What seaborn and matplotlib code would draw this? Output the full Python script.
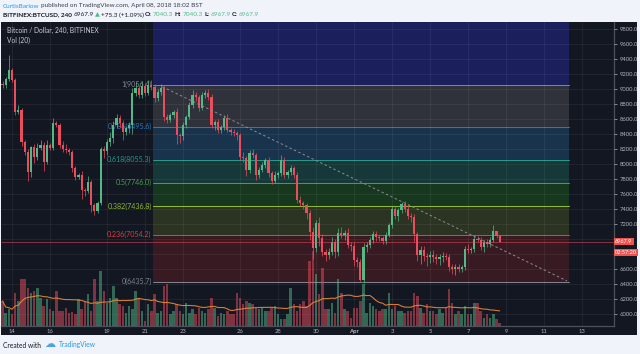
import numpy as np
import pandas as pd
import matplotlib
matplotlib.use("Agg")
import matplotlib.pyplot as plt
import matplotlib.transforms as mtrans
import seaborn as sns

# ---- data (BTCUSD, 4h candles) ----
first_open = 9067
closes = [9054, 9134, 9254, 9121, 8694, 8721, 8295, 8162, 7895, 8228,
          8095, 8215, 8255, 8028, 8255, 8215, 8548, 8521, 8255, 8202,
          8188, 8162, 7949, 7829, 7855, 7656, 7642, 7762, 7456, 7376,
          7482, 8202, 8175, 8295, 8348, 8521, 8614,
          8548, 8428, 8481, 8521, 8948, 9014, 8921, 9041, 8948, 9054,
          9027, 8881, 8961, 9014, 8628, 8588, 8654, 8694, 8388, 8375,
          8521, 8628, 8788, 8921, 8894, 8748, 8921, 8948, 8894, 8521,
          8561, 8455, 8495, 8614, 8455, 8428, 8415, 8388, 8095, 8082, 7922,
          8148, 8122, 7855, 7922, 7988, 8055, 7882, 7775, 7855, 7882,
          8055, 7855, 7895, 7949, 7855, 7522, 7482, 7456, 7349, 7096,
          6883, 7216, 7016, 6830, 6790, 6830, 6963, 6830, 7083, 7056,
          7083, 6923, 6909, 6723, 6696, 6457, 6896, 6923, 6989,
          7069, 7030, 7016, 6976, 7056, 7189, 7402, 7309, 7389, 7469,
          7402, 7309, 7290, 7069, 6790, 6856, 6776, 6763, 6790, 6763,
          6736, 6763, 6776, 6763, 6630, 6603, 6630, 6603, 6630, 6870,
          6856, 6870, 7003, 6989, 6896, 6963, 6936, 6989, 7109, 7040.3, 6967.9]

wick_up = [40, 30, 200, 30, 20, 60, 30, 30, 40, 20,
           40, 60, 60, 40, 60, 30, 65, 30, 30, 50,
           60, 30, 30, 30, 30, 60, 30, 80, 30, 30,
           30, 30, 40, 40, 80, 60, 60,
           40, 40, 30, 40, 60, 80, 40, 60, 40, 60,
           60, 40, 40, 50, 30, 40, 30, 30, 60, 30,
           40, 30, 40, 60, 40, 30, 40, 40, 50, 40,
           30, 40, 30, 40, 50, 30, 40, 30, 30, 60, 30,
           40, 60, 30, 40, 40, 30, 40, 30, 50, 30,
           60, 40, 30, 40, 30, 40, 60, 30, 30, 40,
           60, 40, 80, 60, 40, 50, 60, 40, 60, 80,
           40, 60, 40, 50, 40, 40, 60, 40, 40,
           40, 40, 30, 30, 40, 30, 40, 40, 30, 30,
           40, 60, 40, 40, 30, 60, 60, 40, 50, 60,
           40, 40, 60, 40, 40, 40, 40, 40, 30, 40,
           60, 30, 40, 40, 40, 30, 40, 40, 80, 0, 0]

wick_dn = [40, 40, 30, 30, 40, 30, 60, 40, 120, 60,
           80, 40, 30, 120, 30, 30, 30, 30, 40, 40,
           40, 40, 60, 40, 30, 120, 60, 30, 90, 50,
           30, 30, 100, 60, 60, 60, 40,
           60, 100, 40, 60, 120, 40, 40, 40, 40, 30,
           40, 60, 40, 40, 60, 40, 30, 40, 120, 100,
           60, 40, 30, 40, 50, 40, 30, 40, 40, 40,
           60, 40, 40, 40, 30, 40, 40, 60, 40, 60, 80,
           40, 40, 60, 40, 30, 40, 60, 40, 30, 40,
           40, 40, 40, 40, 40, 40, 40, 60, 80, 100,
           150, 60, 100, 60, 80, 60, 40, 80, 60, 40,
           60, 40, 60, 80, 60, 20, 40, 60, 40,
           40, 60, 40, 40, 40, 30, 40, 40, 60, 40,
           40, 40, 60, 100, 80, 120, 60, 120, 80, 60,
           60, 80, 60, 40, 60, 60, 80, 40, 40, 40,
           40, 40, 40, 30, 40, 60, 40, 40, 30, 30, 0]

volume = [25, 13, 17, 12, 33, 25, 47, 47, 38, 33,
          35, 38, 28, 20, 27, 17, 15, 35, 15, 15,
          18, 13, 14, 12, 27, 17, 25, 32, 15, 47,
          25, 55, 35, 23, 28, 40, 28, 22, 20, 13,
          20, 17, 35, 28, 15, 5, 22, 15, 32, 13,
          15, 40, 42, 12, 15, 22, 15, 12, 23, 13,
          17, 12, 18, 15, 13, 17, 28, 18, 10, 13,
          12, 15, 12, 12, 33, 28, 22, 25, 23, 22,
          18, 17, 18, 15, 15, 18, 20, 12, 7, 7,
          12, 38, 22, 15, 22, 25, 20, 65, 75, 52,
          32, 58, 17, 17, 23, 13, 47, 33, 17, 15,
          8, 18, 18, 25, 42, 13, 23, 20, 17, 15,
          17, 17, 33, 17, 20, 15, 15, 13, 15, 15,
          33, 30, 18, 13, 22, 15, 15, 12, 17, 13,
          18, 37, 23, 12, 15, 12, 20, 12, 12, 23,
          23, 15, 8, 12, 8, 12, 7, 3]

fib_ratios = [1, 0.786, 0.618, 0.5, 0.382, 0.236, 0]
fib_prices = [9056.4, 8495.6, 8055.3, 7746.0, 7436.8, 7054.2, 6435.7]
fib_top = 10676.0  # 1.618 extension, above the visible range
fib_start = pd.Timestamp("2018-03-21 10:00")
fib_end = pd.Timestamp("2018-04-12 08:00")
trend_pts = [(pd.Timestamp("2018-03-21 22:00"), 9030), (pd.Timestamp("2018-04-12 05:00"), 6445)]

last_price = 6967.9
price_ticks = list(range(6000, 9801, 200))
hidden_ticks = [6800, 7000]  # covered by the last-price tags
day_ticks = ["2018-03-14", "2018-03-16", "2018-03-19", "2018-03-21", "2018-03-23",
             "2018-03-26", "2018-03-28", "2018-03-30", "2018-04-01", "2018-04-03",
             "2018-04-05", "2018-04-07", "2018-04-09", "2018-04-11", "2018-04-13"]
day_labels = ["14", "16", "19", "21", "23", "26", "28", "30", "Apr", "3", "5", "7", "9", "11", "13"]

# ---- frame ----
times = pd.date_range("2018-03-13 12:00", periods=len(closes), freq="4h")
df = pd.DataFrame({"time": times, "close": closes, "volume": volume})
df["open"] = df["close"].shift(1).fillna(first_open)
df["high"] = df[["open", "close"]].max(axis=1) + np.array(wick_up)
df["low"] = df[["open", "close"]].min(axis=1) - np.array(wick_dn)
df["up"] = df["close"] >= df["open"]
df["vol_ma"] = df["volume"].rolling(20, min_periods=1).mean()

sns.set_theme(style="dark")
plt.rcParams["font.family"] = ["Lato", "DejaVu Sans"]

BG = "#131722"
UP = "#53b987"
DN = "#eb4d5c"
TXT = "#b2b5be"

fig = plt.figure(figsize=(6.4, 3.54), dpi=100)
fig.patch.set_facecolor("#f0f3fa")
W, H = 640.0, 354.0

def fx(x):
    return x / W

def fy(y):
    return 1 - y / H

# dark panel behind chart + axes strips
fig.patches.append(plt.Rectangle((fx(1), fy(335)), fx(636), 313 / H, transform=fig.transFigure,
                                 facecolor=BG, edgecolor="none", zorder=-5))

ax = fig.add_axes([fx(1), fy(326), fx(613), 304 / H])
ax.set_zorder(1)
ax.set_facecolor(BG)
xmin, xmax = pd.Timestamp("2018-03-13 10:06"), pd.Timestamp("2018-04-14 16:25")
ymin, ymax = 5844, 9893

vax = ax.twinx()
cax = ax.twinx()

# grid
ax.set_yticks(price_ticks)
ax.set_xticks(pd.to_datetime(day_ticks))
ax.grid(True, color="white", alpha=0.07, lw=0.6)
ax.set_axisbelow(False)

# fib zones
zone_colors = ["#1b1f5b", "#30323b", "#19334c", "#163838", "#17381f", "#2b3322", "#381a23"]
line_colors = ["#80838d", "#2f78b8", "#25998c", "#43a047", "#8fb935", "#d8413f", "#80838d"]
bounds = [fib_top] + fib_prices
for i in range(7):
    ax.fill_between([fib_start, fib_end], bounds[i + 1], bounds[i], color=zone_colors[i],
                    lw=0, zorder=0.5)
for r, p, c in zip(fib_ratios, fib_prices, line_colors):
    ax.plot([fib_start, fib_end], [p, p], color=c, lw=0.75, zorder=0.6)
    ax.annotate(f"{r:g}({p:.1f})", xy=(fib_start, p), xytext=(-1, 0.3), textcoords="offset points",
                ha="right", va="center", fontsize=5.1, color=c, zorder=0.7)
ax.set_xlim(xmin, xmax)
ax.set_ylim(ymin, ymax)

# price axis on the right
ax.yaxis.tick_right()
ax.set_yticklabels(["" if t in hidden_ticks else f"{t:.1f}" for t in price_ticks])
ax.tick_params(axis="y", colors=TXT, labelsize=4.2, length=2, width=0.5, pad=2,
               right=True, left=False, labelright=True, labelleft=False)
ax.set_xticklabels(day_labels)
ax.tick_params(axis="x", colors=TXT, labelsize=4.2, length=0, pad=2.5)
for lab in ax.get_xticklabels():
    if lab.get_text() == "Apr":
        lab.set_fontweight("bold")
for s in ["top", "left"]:
    ax.spines[s].set_visible(False)
for s in ["bottom", "right"]:
    ax.spines[s].set_color("#4c505b")
    ax.spines[s].set_linewidth(0.9)

# volume overlay
vax.set_ylim(0, 304)
vax.patch.set_visible(False)
vax.bar(df["time"], df["volume"], width=0.13,
        color=np.where(df["up"], UP, DN), alpha=0.5, lw=0)
sns.lineplot(x=df["time"], y=df["vol_ma"], ax=vax, color="#e8883a", lw=0.8, alpha=0.9)
vax.set_xlim(xmin, xmax)
vax.set_axis_off()

# candles on top
cax.set_ylim(ymin, ymax)
cax.patch.set_visible(False)
ccol = np.where(df["up"], UP, DN)
cax.vlines(df["time"], df["low"], df["high"], colors=ccol, lw=0.5)
body = (df["close"] - df["open"]).abs().clip(lower=8)
cax.bar(df["time"], body, bottom=df[["open", "close"]].min(axis=1), width=0.12, color=ccol, lw=0)
cax.axhline(last_price, color=DN, lw=0.6, alpha=0.6)
cax.plot([p[0] for p in trend_pts], [p[1] for p in trend_pts], color="#8a8d96", lw=0.7,
         dashes=(2.5, 2.5))
cax.set_xlim(xmin, xmax)
cax.set_ylim(ymin, ymax)
cax.set_axis_off()

# last price tags
bt = mtrans.blended_transform_factory(ax.transAxes, ax.transData)
for txt, p in [("6967.9", last_price + 5), ("02:57:20", last_price - 140)]:
    ax.text(1.002, p, txt, transform=bt, fontsize=4.1, color="white", va="center", ha="left",
            clip_on=False, zorder=5,
            bbox=dict(boxstyle="square,pad=0.18", fc="#ef5350", ec="none"))

# chart legend
fig.text(fx(7), fy(30), "Bitcoin / Dollar, 240, BITFINEX", fontsize=4.8, color="#c8cad2",
         va="center", zorder=10)
fig.text(fx(7), fy(40), "Vol (20)", fontsize=4.8, color="#c8cad2", va="center", zorder=10)

# header rows with coloured pieces
renderer = fig.canvas.get_renderer()

def put_row(parts, x0, y0, size, gap=1.3):
    x = fx(x0)
    for s, c, w in parts:
        t = fig.text(x, fy(y0), s, color=c, fontsize=size, fontweight=w, va="center", ha="left")
        bb = t.get_window_extent(renderer=renderer)
        x = bb.x1 / fig.bbox.width + fx(gap)

put_row([("CurtisBarlow", "#2196f3", "normal"),
         ("published on TradingView.com, April 08, 2018 18:02 BST", "#3c3f48", "normal")], 3, 6, 4.6)
G = "#53b987"
K = "#131722"
put_row([("BITFINEX:BTCUSD, 240", K, "bold"), ("6967.9", K, "normal"), ("\u25b2", G, "normal"),
         ("+75.3 (+1.09%)", K, "normal"), ("O:", K, "bold"), ("7040.3", G, "normal"),
         ("H:", K, "bold"), ("7040.3", G, "normal"), ("L:", K, "bold"), ("6967.9", G, "normal"),
         ("C:", K, "bold"), ("6967.9", G, "normal")], 3, 15, 4.6)

# footer
fig.text(fx(3), fy(345), "Created with", fontsize=4.8, color="#131722", va="center")
fig.text(fx(44), fy(344), "\u2601", fontsize=8, color="#4aa3df", va="center", family="DejaVu Sans")
fig.text(fx(59), fy(345), "TradingView", fontsize=4.8, color="#2196f3", va="center")

fig.savefig("out.png", dpi=100, facecolor=fig.get_facecolor())
